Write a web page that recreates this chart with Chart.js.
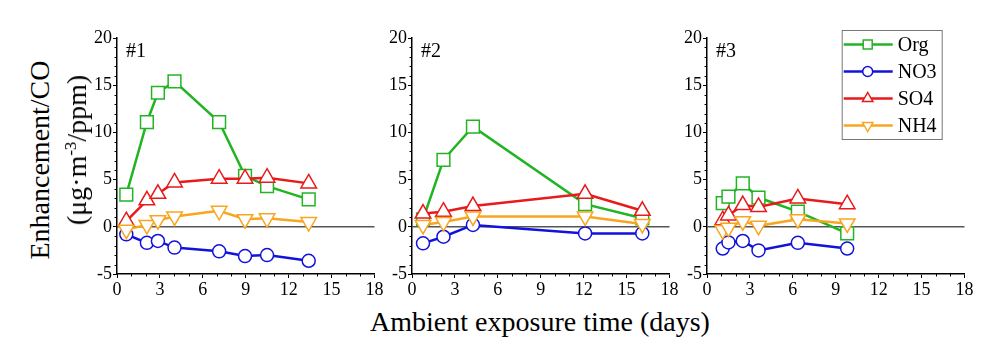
<!DOCTYPE html>
<html lang="en">
<head>
    <meta charset="UTF-8">
    <title>Enhancement/CO vs ambient exposure time</title>
    <script src="https://cdn.jsdelivr.net/npm/chart.js"></script>
    <style>
        body {
            margin: 0;
            background: #ffffff;
            font-family: "Liberation Serif", "Times New Roman", serif;
        }

        .page {
            position: relative;
            width: 997px;
            height: 348px;
            overflow: hidden;
        }

        canvas {
            position: absolute;
            top: 0;
        }

        .title {
            position: absolute;
            font-size: 28px;
            color: #000;
            white-space: nowrap;
            line-height: 1;
        }

        .title.rot {
            transform: translate(-50%, -50%) rotate(-90deg);
        }

        .title.flat {
            transform: translate(-50%, -50%);
        }

        sup {
            font-size: 60%;
            line-height: 0;
        }
    </style>
</head>
<body>
    <div class="page">
        <canvas id="panel1" width="328" height="300" style="left:57px"></canvas>
        <canvas id="panel2" width="328" height="300" style="left:351.7px"></canvas>
        <canvas id="panel3" width="328" height="300" style="left:647.3px"></canvas>

        <div class="title rot" style="left:40px; top:160px">Enhancement/CO</div>
        <div class="title rot" style="left:77px; top:150px">(μg·m<sup>-3</sup>/ppm)</div>
        <div class="title flat" style="left:540px; top:322px">Ambient exposure time (days)</div>
    </div>

    <script>
        // panel #1
        const days1 = [0.65, 2.09, 2.86, 4.02, 7.14, 8.95, 10.49, 13.4];
        const org1 = [3.4, 11.1, 14.2, 15.4, 11.1, 5.4, 4.3, 2.9];
        const no3_1 = [-0.8, -1.7, -1.5, -2.2, -2.6, -3.1, -3.0, -3.6];
        const so4_1 = [0.6, 2.8, 3.5, 4.7, 5.1, 5.1, 5.2, 4.6];
        const nh4_1 = [-0.3, 0.2, 0.7, 1.1, 1.7, 0.8, 0.9, 0.5];

        // panel #2
        const days2 = [0.77, 2.2, 4.26, 12.1, 16.1];
        const org2 = [0.8, 7.1, 10.6, 2.4, 0.9];
        const no3_2 = [-1.75, -1.05, 0.2, -0.7, -0.7];
        const so4_2 = [1.4, 1.6, 2.2, 3.5, 1.7];
        const nh4_2 = [0.2, 0.5, 1.1, 1.1, 0.3];

        // panel #3
        const days3 = [1.1, 1.5, 2.5, 3.6, 6.35, 9.8];
        const org3 = [2.5, 3.2, 4.6, 3.1, 1.6, -0.7];
        const no3_3 = [-2.3, -1.65, -1.5, -2.5, -1.7, -2.3];
        const so4_3 = [0.7, 1.2, 2.3, 2.1, 3.0, 2.4];
        const nh4_3 = [-0.35, -0.1, 0.6, 0.1, 0.8, 0.35];

        const seriesNames = ['Org', 'NO3', 'SO4', 'NH4'];
        const xTicks = [0, 3, 6, 9, 12, 15, 18];
        const yTicks = [-5, 0, 5, 10, 15, 20];

        const colors = ['#22b422', '#1212dc', '#e81a1a', '#f8a620'];
        const styles = [
            { pointStyle: 'rect', radius: 9, rotation: 0 },
            { pointStyle: 'circle', radius: 6.5, rotation: 0 },
            { pointStyle: 'triangle', radius: 9, rotation: 0 },
            { pointStyle: 'triangle', radius: 9, rotation: 180 }
        ];

        const serif = '"Liberation Serif", "Times New Roman", serif';
        Chart.defaults.font.family = serif;
        Chart.defaults.color = '#000';

        function drawMarker(ctx, kind, x, y, r) {
            ctx.beginPath();
            if (kind === 0) {
                ctx.rect(x - r, y - r, 2 * r, 2 * r);
            } else if (kind === 1) {
                ctx.arc(x, y, r, 0, Math.PI * 2);
            } else {
                const s = kind === 2 ? 1 : -1;
                ctx.moveTo(x, y - s * r);
                ctx.lineTo(x + r * 0.866, y + s * r * 0.5);
                ctx.lineTo(x - r * 0.866, y + s * r * 0.5);
                ctx.closePath();
            }
            ctx.fill();
            ctx.stroke();
        }

        const panelDecor = {
            id: 'panelDecor',
            beforeDatasetsDraw(chart, args, opts) {
                const { ctx, chartArea, scales } = chart;
                const sx = scales.x, sy = scales.y;
                ctx.save();

                // zero line
                const y0 = sy.getPixelForValue(0);
                ctx.strokeStyle = '#555';
                ctx.lineWidth = 1.5;
                ctx.beginPath();
                ctx.moveTo(chartArea.left, y0);
                ctx.lineTo(chartArea.right, y0);
                ctx.stroke();

                // minor ticks
                ctx.strokeStyle = '#000';
                ctx.lineWidth = 1;
                for (let v = -5; v <= 20; v++) {
                    if (v % 5 === 0) continue;
                    const py = Math.round(sy.getPixelForValue(v)) + 0.5;
                    ctx.beginPath();
                    ctx.moveTo(chartArea.left, py);
                    ctx.lineTo(chartArea.left - 2.5, py);
                    ctx.stroke();
                }
                for (let v = 0; v <= 18; v++) {
                    if (v % 3 === 0) continue;
                    const px = Math.round(sx.getPixelForValue(v)) + 0.5;
                    ctx.beginPath();
                    ctx.moveTo(px, chartArea.bottom);
                    ctx.lineTo(px, chartArea.bottom + 2.5);
                    ctx.stroke();
                }

                // panel label
                ctx.fillStyle = '#000';
                ctx.font = '20px ' + serif;
                ctx.textBaseline = 'alphabetic';
                ctx.fillText(opts.label, chartArea.left + 9, 57);
                ctx.restore();
            },
            afterDatasetsDraw(chart, args, opts) {
                if (!opts.legend) return;
                const ctx = chart.ctx;
                const lx = opts.legendX, ly = 30;
                ctx.save();
                ctx.fillStyle = '#fff';
                ctx.fillRect(lx, ly, 100, 109);
                ctx.strokeStyle = '#777';
                ctx.lineWidth = 1;
                ctx.strokeRect(lx + 0.5, ly + 0.5, 100, 109);
                const rows = [44.5, 71.5, 98.5, 125.5];
                const sizes = [4.5, 5, 6, 6];
                seriesNames.forEach((name, i) => {
                    const ry = rows[i];
                    ctx.strokeStyle = colors[i];
                    ctx.lineWidth = 2.5;
                    ctx.beginPath();
                    ctx.moveTo(lx + 2, ry);
                    ctx.lineTo(lx + 51, ry);
                    ctx.stroke();
                    ctx.fillStyle = '#fff';
                    ctx.lineWidth = 1.5;
                    drawMarker(ctx, i, lx + 26, ry, sizes[i]);
                    ctx.fillStyle = '#000';
                    ctx.font = '20px ' + serif;
                    ctx.textBaseline = 'middle';
                    ctx.fillText(name, lx + 56, ry + 1);
                });
                ctx.restore();
            }
        };

        function makePanel(id, label, days, org, no3, so4, nh4, legend) {
            const values = [org, no3, so4, nh4];
            const datasets = values.map((vals, i) => ({
                label: seriesNames[i],
                data: vals.map((v, k) => ({ x: days[k], y: v })),
                borderColor: colors[i],
                borderWidth: 2.5,
                pointStyle: styles[i].pointStyle,
                pointRadius: styles[i].radius,
                pointRotation: styles[i].rotation,
                pointBackgroundColor: '#fff',
                pointBorderColor: colors[i],
                pointBorderWidth: 1.5,
                fill: false,
                tension: 0,
                order: 3 - i
            }));

            new Chart(document.getElementById(id), {
                type: 'line',
                data: { datasets: datasets },
                options: {
                    responsive: false,
                    animation: false,
                    devicePixelRatio: 1,
                    layout: { padding: { top: 38, right: 10, left: 0, bottom: 0 } },
                    plugins: {
                        legend: { display: false },
                        tooltip: { enabled: false },
                        panelDecor: { label: label, legend: legend, legendX: 194.7 }
                    },
                    scales: {
                        x: {
                            type: 'linear',
                            min: 0,
                            max: 18,
                            afterBuildTicks: (s) => { s.ticks = xTicks.map(v => ({ value: v })); },
                            afterFit: (s) => { s.height = 26; },
                            ticks: { font: { size: 18 }, padding: 1, maxRotation: 0 },
                            grid: { drawOnChartArea: false, tickLength: 4, color: '#000' },
                            border: { color: '#000', width: 1.5 }
                        },
                        y: {
                            type: 'linear',
                            min: -5,
                            max: 20,
                            afterBuildTicks: (s) => { s.ticks = yTicks.map(v => ({ value: v })); },
                            afterFit: (s) => { s.width = 60; },
                            ticks: { font: { size: 18 }, padding: 1 },
                            grid: { drawOnChartArea: false, tickLength: 4, color: '#000' },
                            border: { color: '#000', width: 1.5 }
                        }
                    }
                },
                plugins: [panelDecor]
            });
        }

        makePanel('panel1', '#1', days1, org1, no3_1, so4_1, nh4_1, false);
        makePanel('panel2', '#2', days2, org2, no3_2, so4_2, nh4_2, false);
        makePanel('panel3', '#3', days3, org3, no3_3, so4_3, nh4_3, true);
    </script>
</body>
</html>
